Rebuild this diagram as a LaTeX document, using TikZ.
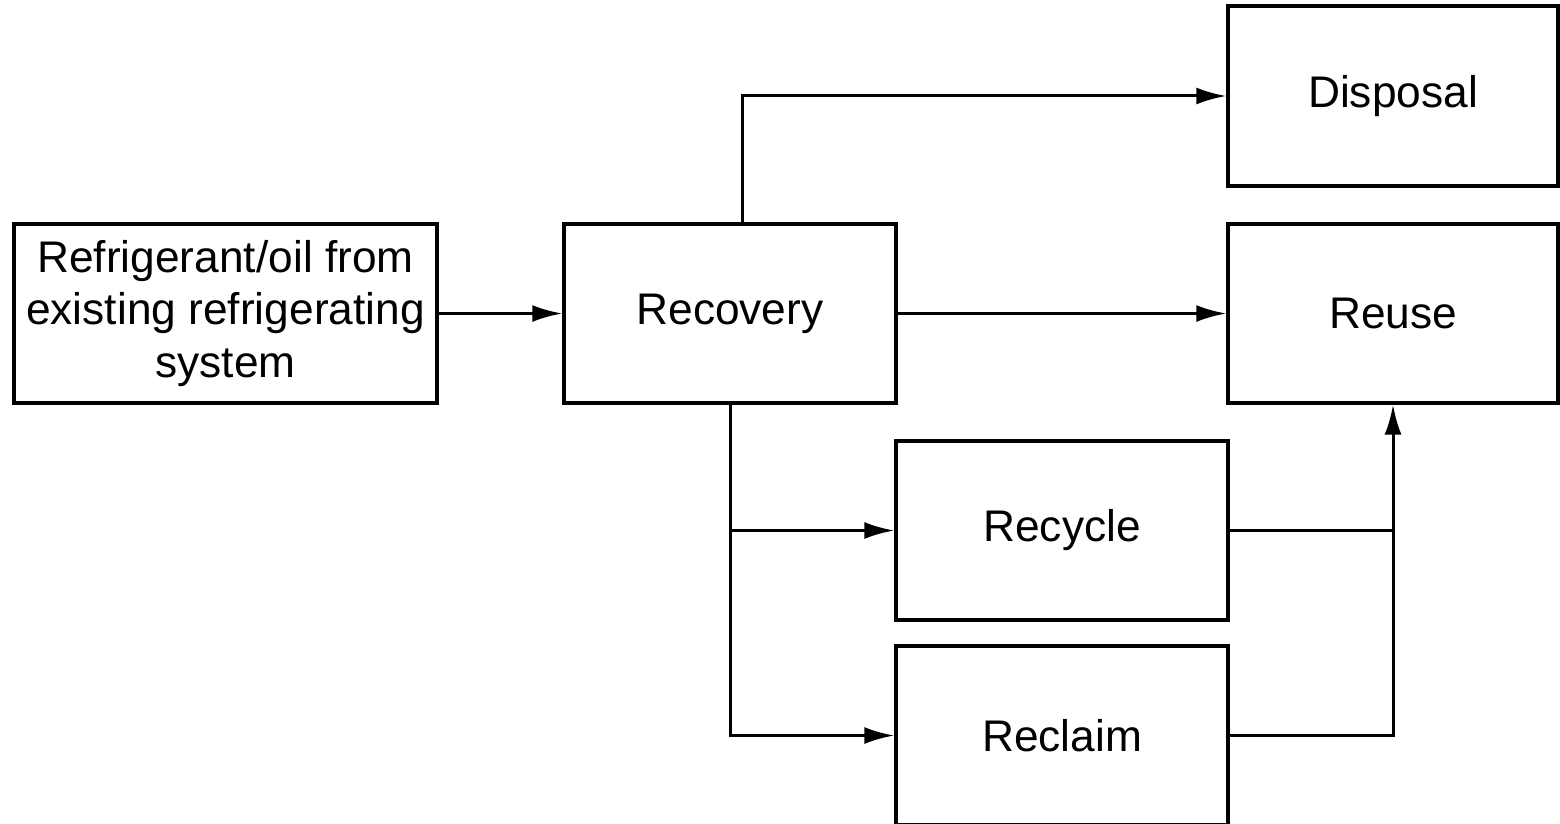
\documentclass[tikz,border=0pt]{standalone}
\usepackage{fontspec}
\setmainfont{Liberation Sans}
\usetikzlibrary{arrows.meta}
\begin{document}
\begin{tikzpicture}[
  box/.style={draw, line width=0.034cm, rectangle, inner sep=0pt, align=center, font=\fontsize{12.6}{15}\selectfont},
  conn/.style={line width=0.03cm},
  arr/.style={conn, -{Latex[length=3mm,width=1.7mm]}}
]
\useasboundingbox (0,0) rectangle (15.6,-8.23);
\clip (0,0) rectangle (15.6,-8.23);
\node[box, minimum width=4.23cm, minimum height=1.79cm] (src) at (2.255,-3.135) {Refrigerant/oil from\\existing refrigerating\\system};
\node[box, minimum width=3.32cm, minimum height=1.79cm] (rec) at (7.30,-3.135) {Recovery};
\node[box, minimum width=3.30cm, minimum height=1.80cm] (disp) at (13.93,-0.96) {Disposal};
\node[box, minimum width=3.30cm, minimum height=1.79cm] (reuse) at (13.93,-3.135) {Reuse};
\node[box, minimum width=3.32cm, minimum height=1.79cm] (recy) at (10.62,-5.305) {Recycle};
\node[box, minimum width=3.32cm, minimum height=1.79cm] (recl) at (10.62,-7.355) {Reclaim};
\draw[arr] (src.east) -- (rec.west);
\draw[arr] ([xshift=0.12cm]rec.north) |- (disp.west);
\draw[arr] (rec.east) -- (reuse.west);
\draw[arr] (rec.south) |- (recl.west);
\draw[arr] (rec.south |- recy.west) -- (recy.west);
\draw[conn] (recy.east) -- (recy.east -| reuse.south);
\draw[arr] (recl.east) -| (reuse.south);
\end{tikzpicture}
\end{document}
